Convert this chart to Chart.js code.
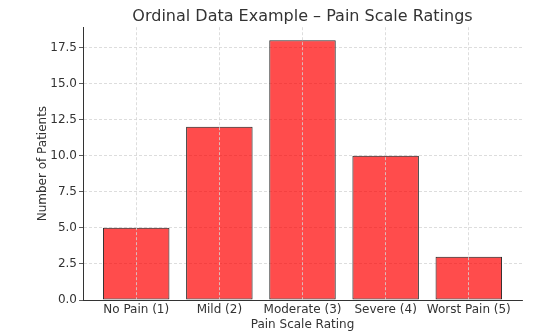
<!DOCTYPE html>
<html>
<head>
<meta charset="utf-8">
<script src="https://cdn.jsdelivr.net/npm/chart.js@4/dist/chart.umd.min.js"></script>
<style>
  html, body { margin: 0; padding: 0; background: #fff; }
  #wrap { width: 546px; height: 336px; }
</style>
</head>
<body>
<div id="wrap"><canvas id="painChart" width="546" height="336"></canvas></div>
<script>
// data
const painLevels = ["No Pain (1)", "Mild (2)", "Moderate (3)", "Severe (4)", "Worst Pain (5)"];
const patientCounts = [5, 12, 18, 10, 3];
const yTickValues = [0, 2.5, 5, 7.5, 10, 12.5, 15, 17.5];

const textColor = "#333333";
const fontFamily = "'DejaVu Sans', sans-serif";

// center the title over the plot area instead of the whole canvas
const titleOverPlot = {
    id: "titleOverPlot",
    afterLayout(chart) {
        if (chart.titleBlock) {
            chart.titleBlock.left = chart.chartArea.left;
            chart.titleBlock.right = chart.chartArea.right;
        }
    }
};

const ctx = document.getElementById("painChart").getContext("2d");

new Chart(ctx, {
    type: "bar",
    data: {
        datasets: [{
            label: "Patients",
            data: patientCounts.map((v, i) => ({ x: i, y: v })),
            backgroundColor: "rgba(255, 0, 0, 0.7)",
            borderColor: "#2b2b2b",
            borderWidth: 1,
            borderSkipped: false,
            barPercentage: 0.8,
            categoryPercentage: 1.0
        }]
    },
    options: {
        responsive: false,
        animation: false,
        layout: { padding: { left: 0, right: 24, top: 0, bottom: 0 } },
        plugins: {
            legend: { display: false },
            tooltip: { enabled: false },
            title: {
                display: true,
                text: "Ordinal Data Example – Pain Scale Ratings",
                color: textColor,
                font: { family: fontFamily, size: 16, weight: "normal" },
                padding: { top: 7, bottom: 1 }
            }
        },
        scales: {
            x: {
                type: "linear",
                offset: false,
                min: -0.64,
                max: 4.64,
                afterBuildTicks: scale => {
                    scale.ticks = painLevels.map((_, i) => ({ value: i }));
                },
                afterFit: scale => { scale.height = 36; },
                ticks: {
                    color: textColor,
                    font: { family: fontFamily, size: 12 },
                    padding: 3,
                    maxRotation: 0,
                    autoSkip: false,
                    callback: v => painLevels[v]
                },
                grid: {
                    z: 1,
                    offset: false,
                    color: "#d4d4d4",
                    lineWidth: 0.8,
                    drawTicks: false,
                    tickLength: 0
                },
                border: { display: true, color: textColor, width: 1, dash: [3, 2], z: 1 },
                title: {
                    display: true,
                    text: "Pain Scale Rating",
                    color: textColor,
                    font: { family: fontFamily, size: 12 },
                    padding: { top: 0, bottom: 4 }
                }
            },
            y: {
                min: 0,
                max: 18.9,
                afterBuildTicks: scale => {
                    scale.ticks = yTickValues.map(v => ({ value: v }));
                },
                afterFit: scale => { scale.width = 83; },
                ticks: {
                    color: textColor,
                    font: { family: fontFamily, size: 12 },
                    padding: 2,
                    callback: v => v.toFixed(1)
                },
                grid: {
                    color: "#d4d4d4",
                    lineWidth: 0.8,
                    tickColor: textColor,
                    tickLength: 4
                },
                border: { display: true, color: textColor, width: 1, dash: [3, 2], z: 1 },
                title: {
                    display: true,
                    text: "Number of Patients",
                    color: textColor,
                    font: { family: fontFamily, size: 12 },
                    padding: { top: 36, bottom: 0 }
                }
            }
        }
    },
    plugins: [titleOverPlot]
});
</script>
</body>
</html>
